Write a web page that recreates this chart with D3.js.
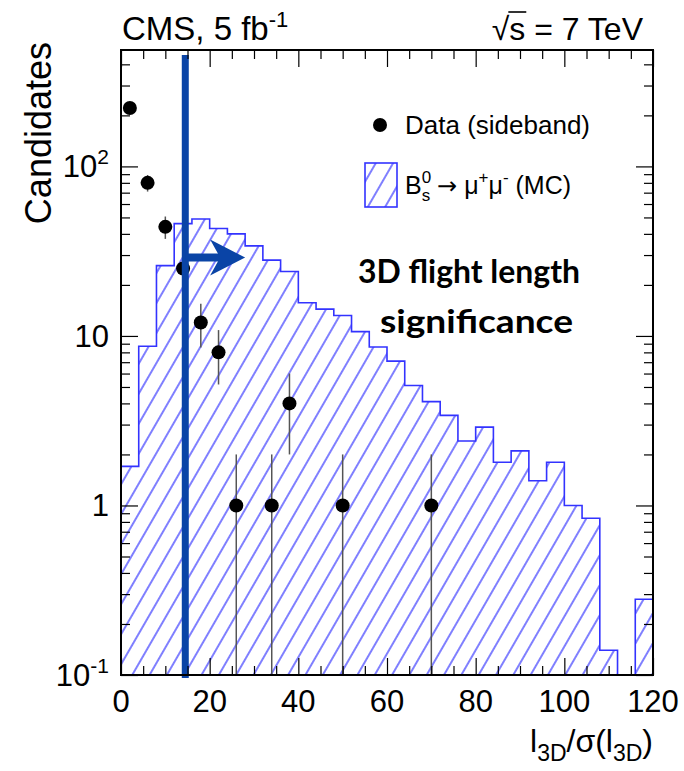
<!DOCTYPE html>
<html>
<head>
<meta charset="utf-8">
<script src="https://cdn.jsdelivr.net/npm/d3@7"></script>
<style>
  body { margin: 0; background: #fff; }
  svg text { font-family: "Liberation Sans", Arial, sans-serif; }
</style>
</head>
<body>
<div id="chart-area"></div>
<script>
// histogram bins (lower edges, width 4)
var binLo = [0, 4, 8, 12, 16, 20, 24, 28, 32, 36, 40, 44, 48, 52, 56,
             60, 64, 68, 72, 76, 80, 84, 88, 92, 96, 100, 104, 108, 112, 116];
var binWidth = 4;
// Bs -> mumu MC (normalised)
var mcCounts = [1.7, 8.7, 26, 46, 49, 43, 40, 34, 28, 24, 15.7, 14.4, 13.2, 10.6, 8.6,
                7.1, 5.1, 4.1, 3.4, 2.4, 2.9, 1.8, 2.1, 1.4, 1.8, 1.0, 0.84, 0.14, 0, 0.28];
// sideband data
var dataX = [2, 6, 10, 14, 18, 22, 26, 34, 38, 50, 70];
var dataY = [221, 80, 44, 25, 12, 8, 1, 1, 4, 1, 1];

var xTicks = [0, 20, 40, 60, 80, 100, 120];
var yTicks = [0.1, 1, 10, 100];
var yTickLabels = [["10", "-1"], ["1", ""], ["10", ""], ["10", "2"]];
var cutValue = 14.5;
var arrowEnd = 28, arrowAt = 29;

var width = 684, height = 771;
var margin = {top: 50, right: 31, bottom: 96, left: 121};
var x0 = margin.left, x1 = width - margin.right;
var y0 = height - margin.bottom, y1 = margin.top;

var svg = d3.select("#chart-area")
  .append("svg")
    .attr("width", width)
    .attr("height", height);

var x = d3.scaleLinear().domain([0, 120]).range([x0, x1]);
var y = d3.scaleLog().domain([0.1, 486]).range([y0, y1]).clamp(true);

var defs = svg.append("defs");
defs.append("clipPath").attr("id", "frame")
  .append("rect").attr("x", x0).attr("y", y1).attr("width", x1 - x0).attr("height", y0 - y1);

var pat = defs.append("pattern")
  .attr("id", "hatch")
  .attr("patternUnits", "userSpaceOnUse")
  .attr("width", 15).attr("height", 15)
  .attr("patternTransform", "rotate(30)");
pat.append("line")
  .attr("x1", 2).attr("y1", 0).attr("x2", 2).attr("y2", 15)
  .attr("stroke", "#3a3aff").attr("stroke-width", 1.3);

// histogram outline path
function histPath() {
  var p = d3.path();
  p.moveTo(x(binLo[0]), y0);
  binLo.forEach(function(lo, i) {
    var v = mcCounts[i] > 0 ? y(mcCounts[i]) : y0;
    p.lineTo(x(lo), v);
    p.lineTo(x(lo + binWidth), v);
  });
  p.lineTo(x(binLo[binLo.length - 1] + binWidth), y0);
  return p.toString();
}

var plot = svg.append("g").attr("clip-path", "url(#frame)");
plot.append("path")
  .attr("d", histPath() + "Z")
  .attr("fill", "url(#hatch)")
  .attr("stroke", "none");
plot.append("path")
  .attr("d", histPath())
  .attr("fill", "none")
  .attr("stroke", "#3333ff")
  .attr("stroke-width", 1.6);

// data error bars and points
var pts = svg.append("g");
dataX.forEach(function(dx, i) {
  var v = dataY[i], e = Math.sqrt(v);
  var lo = v - e > 0 ? y(v - e) : y0;
  pts.append("line")
    .attr("x1", x(dx)).attr("x2", x(dx))
    .attr("y1", y(v + e)).attr("y2", lo)
    .attr("stroke", "#555").attr("stroke-width", 1.5);
});
pts.selectAll("circle")
  .data(dataX)
  .enter()
  .append("circle")
    .attr("cx", function(d) { return x(d); })
    .attr("cy", function(d, i) { return y(dataY[i]); })
    .attr("r", 7)
    .attr("fill", "#000");

// cut line and arrow
var cutColor = "#0a44a6";
svg.append("line")
  .attr("x1", x(cutValue)).attr("x2", x(cutValue))
  .attr("y1", 55).attr("y2", y0 + 3)
  .attr("stroke", cutColor).attr("stroke-width", 7);
var ay = y(arrowAt), ax = x(arrowEnd);
svg.append("line")
  .attr("x1", x(cutValue)).attr("x2", ax - 24)
  .attr("y1", ay).attr("y2", ay)
  .attr("stroke", cutColor).attr("stroke-width", 8);
svg.append("path")
  .attr("d", "M" + ax + "," + ay + " L" + (ax - 35) + "," + (ay - 18) +
             " L" + (ax - 25) + "," + ay + " L" + (ax - 35) + "," + (ay + 18) + "Z")
  .attr("fill", cutColor);

// axes frame and ticks
var minorX = d3.range(0, 121, 5).filter(function(d) { return d % 20 !== 0; });
var minorY = [];
[0.1, 1, 10, 100].forEach(function(dec) {
  for (var k = 2; k <= 9; k++) if (dec * k < 486) minorY.push(dec * k);
});

function ticks(axisFn, scale, vals, size, tr) {
  svg.append("g")
    .attr("transform", tr)
    .call(axisFn(scale).tickValues(vals).tickSize(size).tickFormat(""))
    .call(function(g) {
      g.select(".domain").remove();
      g.selectAll("line").attr("stroke", "#000").attr("stroke-width", 1.2);
    });
}
ticks(d3.axisBottom, x, xTicks, -17, "translate(0," + y0 + ")");
ticks(d3.axisBottom, x, minorX, -9, "translate(0," + y0 + ")");
ticks(d3.axisTop, x, xTicks, -17, "translate(0," + y1 + ")");
ticks(d3.axisTop, x, minorX, -9, "translate(0," + y1 + ")");
ticks(d3.axisLeft, y, yTicks, -17, "translate(" + x0 + ",0)");
ticks(d3.axisLeft, y, minorY, -9, "translate(" + x0 + ",0)");
ticks(d3.axisRight, y, yTicks, -17, "translate(" + x1 + ",0)");
ticks(d3.axisRight, y, minorY, -9, "translate(" + x1 + ",0)");

svg.append("rect")
  .attr("x", x0).attr("y", y1)
  .attr("width", x1 - x0).attr("height", y0 - y1)
  .attr("fill", "none").attr("stroke", "#000").attr("stroke-width", 2);

// tick labels
svg.selectAll(".xlab")
  .data(xTicks)
  .enter()
  .append("text")
    .attr("class", "xlab")
    .attr("x", function(d) { return x(d); })
    .attr("y", y0 + 37)
    .attr("text-anchor", "middle")
    .attr("font-size", 31)
    .text(function(d) { return d; });

yTicks.forEach(function(t, i) {
  var txt = svg.append("text")
    .attr("x", x0 - 12)
    .attr("y", y(t) + 11)
    .attr("text-anchor", "end")
    .attr("font-size", 31);
  txt.append("tspan").text(yTickLabels[i][0]);
  if (yTickLabels[i][1]) {
    txt.append("tspan").attr("dy", -13).attr("font-size", 21).text(yTickLabels[i][1]);
  }
});

// axis titles
svg.append("text")
  .attr("transform", "translate(51,42) rotate(-90)")
  .attr("text-anchor", "end")
  .attr("font-size", 36)
  .text("Candidates");

var xt = svg.append("text")
  .attr("x", x1)
  .attr("y", 752)
  .attr("text-anchor", "end")
  .attr("font-size", 32);
xt.append("tspan").text("l");
xt.append("tspan").attr("dy", 9).attr("font-size", 23).text("3D");
xt.append("tspan").attr("dy", -9).text("/\u03c3(l");
xt.append("tspan").attr("dy", 9).attr("font-size", 23).text("3D");
xt.append("tspan").attr("dy", -9).text(")");

// header
var hd = svg.append("text")
  .attr("x", 122).attr("y", 40)
  .attr("font-size", 33);
hd.append("tspan").text("CMS, 5 fb");
hd.append("tspan").attr("dy", -13).attr("font-size", 22).text("-1");

var en = svg.append("text")
  .attr("x", 643).attr("y", 40)
  .attr("text-anchor", "end")
  .attr("font-size", 32);
en.append("tspan").text("\u221as = 7 TeV");
var enBox = en.node().getBBox();
var sqW = en.node().getSubStringLength(0, 1);
var sW = en.node().getSubStringLength(1, 1);
svg.append("line")
  .attr("x1", enBox.x + sqW - 1).attr("x2", enBox.x + sqW + sW + 1)
  .attr("y1", 12).attr("y2", 12)
  .attr("stroke", "#000").attr("stroke-width", 1.6);

// legend
svg.append("circle").attr("cx", 380).attr("cy", 125).attr("r", 7).attr("fill", "#000");
svg.append("text")
  .attr("x", 405).attr("y", 134)
  .attr("font-size", 26)
  .text("Data (sideband)");

svg.append("rect")
  .attr("x", 365).attr("y", 163).attr("width", 32).attr("height", 44)
  .attr("fill", "url(#hatch)")
  .attr("stroke", "#3333ff").attr("stroke-width", 1.6);
var lg = svg.append("text")
  .attr("x", 405).attr("y", 194)
  .attr("font-size", 25);
lg.append("tspan").text("B");
lg.append("tspan").attr("dy", -11).attr("font-size", 17).text("0");
lg.append("tspan").attr("dx", -9.5).attr("dy", 18).attr("font-size", 17).text("s");
lg.append("tspan").attr("dy", -7).text(" ");
lg.append("tspan").style("font-family", "'DejaVu Sans', sans-serif").attr("font-size", 24).text("\u2192");
lg.append("tspan").text(" \u03bc");
lg.append("tspan").attr("dy", -11).attr("font-size", 17).text("+");
lg.append("tspan").attr("dy", 11).text("\u03bc");
lg.append("tspan").attr("dy", -11).attr("font-size", 17).text("-");
lg.append("tspan").attr("dy", 11).text(" (MC)");

// annotation
svg.append("text")
  .attr("x", 358).attr("y", 283)
  .attr("font-size", 32)
  .attr("font-weight", "bold")
  .attr("textLength", 222)
  .attr("lengthAdjust", "spacingAndGlyphs")
  .style("font-family", "Lato, 'Open Sans', sans-serif")
  .text("3D flight length");
svg.append("text")
  .attr("x", 380).attr("y", 333)
  .attr("font-size", 32)
  .attr("font-weight", "bold")
  .attr("textLength", 193)
  .attr("lengthAdjust", "spacingAndGlyphs")
  .style("font-family", "Lato, 'Open Sans', sans-serif")
  .text("significance");
</script>
</body>
</html>
